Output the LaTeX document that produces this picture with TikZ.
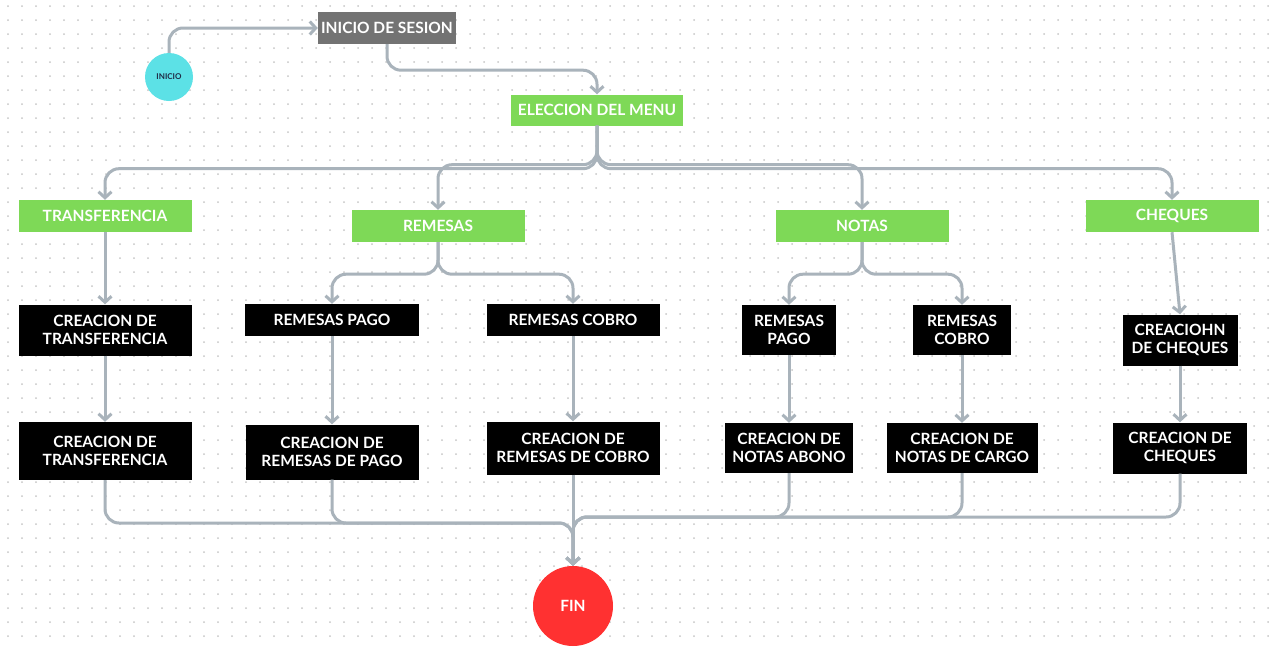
\documentclass[tikz,border=0pt]{standalone}
\usepackage{fontspec}
\setmainfont{Lato}
\usepackage{xcolor}
\usetikzlibrary{arrows.meta,positioning,shapes,calc}
\definecolor{boxgreen}{HTML}{7ED957}
\definecolor{boxgray}{HTML}{737373}
\definecolor{linegray}{HTML}{A9B3BB}
\definecolor{startcyan}{HTML}{5CE1E6}
\definecolor{endred}{HTML}{FF3131}
\definecolor{inkblue}{HTML}{1F2A44}

\begin{document}
\begin{tikzpicture}[x = 1pt, y = -1pt,
  every node/.style = {font = \bfseries\fontsize{15.5}{17.5}\selectfont, align = center, inner sep = 2pt},
  menubox/.style = {fill = boxgreen, text = white, minimum width = 173, minimum height = 32},
  taskbox/.style = {fill = black, text = white},
  flow/.style = {draw = linegray, line width = 3pt, rounded corners = 14pt, -{Straight Barb[length = 6pt, width = 13pt, line width = 3pt]}},
  dotgrid/.style = {draw = gray!45, line width = 2pt, line cap = round, dash pattern = on 0pt off 14pt}]
\useasboundingbox (0,0) rectangle (1269,646);
\fill[white] (0,0) rectangle (1269,646);
\foreach \yy in {6,20,...,646} \draw[dotgrid] (8,\yy) -- (1269,\yy);

\node[circle, fill = startcyan, minimum size = 48, inner sep = 0pt, text = inkblue, font = \bfseries\fontsize{8}{9}\selectfont] (inicio) at (169,77) {INICIO};
\node[fill = boxgray, text = white, minimum width = 138, minimum height = 32] (sesion) at (387,28) {INICIO DE SESION};
\node[menubox, minimum width = 172, minimum height = 31] (menu) at (597,110) {ELECCION DEL MENU};

\node[menubox] (transf) at (105,216) {TRANSFERENCIA};
\node[menubox] (remesas) at (438,226) {REMESAS};
\node[menubox] (notas) at (862,226) {NOTAS};
\node[menubox] (cheques) at (1172,216) {CHEQUES};

\node[taskbox, minimum width = 173, minimum height = 51] (transfa) at (105,330) {CREACION DE\\TRANSFERENCIA};
\node[taskbox, minimum width = 173, minimum height = 58] (transfb) at (105,451) {CREACION DE\\TRANSFERENCIA};

\node[taskbox, minimum width = 174, minimum height = 32] (rempago) at (332,320) {REMESAS PAGO};
\node[taskbox, minimum width = 173, minimum height = 32] (remcobro) at (573,320) {REMESAS COBRO};
\node[taskbox, minimum width = 173, minimum height = 55] (crempago) at (332,452) {CREACION DE\\REMESAS DE PAGO};
\node[taskbox, minimum width = 173, minimum height = 53] (cremcobro) at (573,448) {CREACION DE\\REMESAS DE COBRO};

\node[taskbox, minimum width = 94, minimum height = 50] (notpago) at (789,330) {REMESAS\\PAGO};
\node[taskbox, minimum width = 98, minimum height = 50] (notcobro) at (962,330) {REMESAS\\COBRO};
\node[taskbox, minimum width = 128, minimum height = 50] (abono) at (789,448) {CREACION DE\\NOTAS ABONO};
\node[taskbox, minimum width = 151, minimum height = 50] (cargo) at (962,448) {CREACION DE\\NOTAS DE CARGO};

\node[taskbox, minimum width = 115, minimum height = 51] (chequesa) at (1180,340) {CREACIOHN\\DE CHEQUES};
\node[taskbox, minimum width = 134, minimum height = 51] (chequesb) at (1180,448) {CREACION DE\\CHEQUES};

\node[circle, fill = endred, text = white, minimum size = 80, inner sep = 0pt] (fin) at (573,606) {FIN};
\coordinate (joinl) at (573,523);
\coordinate (joinr) at (573,517);

\draw[flow] (inicio.north) |- (sesion.west);
\draw[flow] (sesion.south) -- ++(0,26) -| (menu.north);
\draw[flow] (menu.south) -- ++(0,43) -| (transf.north);
\draw[flow] (menu.south) -- ++(0,39) -| (remesas.north);
\draw[flow] (menu.south) -- ++(0,39) -| (notas.north);
\draw[flow] (menu.south) -- ++(0,43) -| (cheques.north);

\draw[flow] (transf) -- (transfa);
\draw[flow] (transfa) -- (transfb);
\draw[flow] (remesas.south) -- ++(0,32) -| (rempago.north);
\draw[flow] (remesas.south) -- ++(0,32) -| (remcobro.north);
\draw[flow] (rempago) -- (crempago);
\draw[flow] (remcobro) -- (cremcobro);
\draw[flow] (notas.south) -- ++(0,32) -| (notpago.north);
\draw[flow] (notas.south) -- ++(0,32) -| (notcobro.north);
\draw[flow] (notpago) -- (abono);
\draw[flow] (notcobro) -- (cargo);
\draw[flow] (cheques.south) -- (chequesa.north);
\draw[flow] (chequesa) -- (chequesb);

\draw[flow] (transfb.south) |- (joinl) -- (fin.north);
\draw[flow] (crempago.south) |- (joinl) -- (fin.north);
\draw[flow] (cremcobro) -- (fin);
\draw[flow] (abono.south) |- (joinr) -- (fin.north);
\draw[flow] (cargo.south) |- (joinr) -- (fin.north);
\draw[flow] (chequesb.south) |- (joinr) -- (fin.north);
\end{tikzpicture}
\end{document}
